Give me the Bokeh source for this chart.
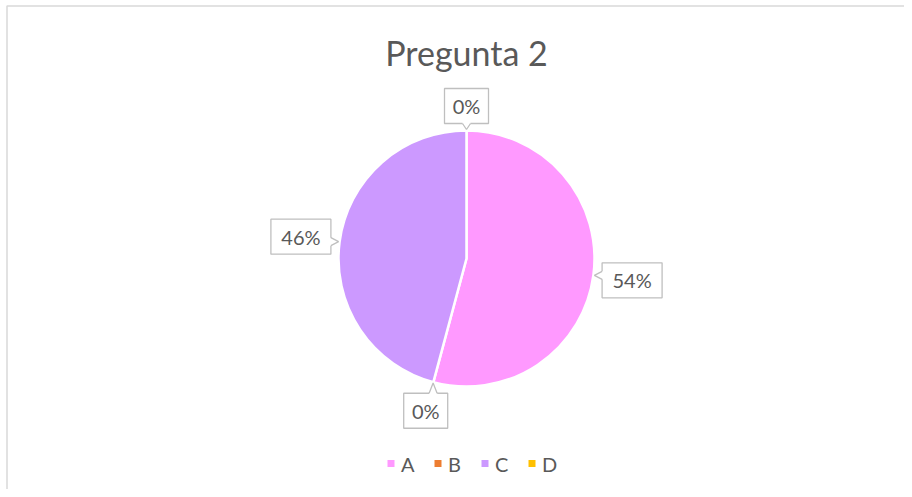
import math
from bokeh.plotting import figure
from bokeh.models import Range1d, ColumnDataSource
from bokeh.core.properties import value
from bokeh.embed import file_html
from bokeh.resources import INLINE

# ---- data ----
title_text = "Pregunta 2"
categories = ["A", "B", "C", "D"]
counts = [13, 0, 11, 0]
colors = ["#FF99FF", "#ED7D31", "#CC99FF", "#FFC000"]

# ---- layout / style ----
W, H = 904, 489
FONT = "Lato"
TXT = "#595959"
BOX = "#BFBFBF"
cx, cy, r = 466, H - 258, 128

p = figure(width=W, height=H, output_backend="svg", toolbar_location=None,
           x_range=Range1d(0, W), y_range=Range1d(0, H), min_border=0)
p.axis.visible = False
p.grid.visible = False
p.outline_line_color = None
p.background_fill_color = "white"
p.border_fill_color = "white"

# chart-area border (left and top edges visible)
p.line(x=[6.5, 6.5, W], y=[0, H - 5.5, H - 5.5], line_color="#D9D9D9", line_width=1.5)

total = sum(counts)
fracs = [c / total for c in counts]
cum = [0.0]
for f in fracs:
    cum.append(cum[-1] + f)

# wedges (clockwise from 12 o'clock)
ws = dict(start=[], end=[], color=[])
for i, c in enumerate(counts):
    if c > 0:
        ws["start"].append(math.pi / 2 - 2 * math.pi * cum[i + 1])
        ws["end"].append(math.pi / 2 - 2 * math.pi * cum[i])
        ws["color"].append(colors[i])
p.wedge(x=cx, y=cy, radius=r, start_angle="start", end_angle="end",
        fill_color="color", line_color="white", line_width=2.5,
        source=ColumnDataSource(ws))

# data labels with callouts
bxs, bys, bws, bhs, texts = [], [], [], [], []
patch_xs, patch_ys, line_xs, line_ys = [], [], [], []
for i, c in enumerate(counts):
    txt = f"{round(100 * c / total)}%"
    mid = cum[i] + fracs[i] / 2
    th = 2 * math.pi * mid
    sx, sy = math.sin(th), math.cos(th)
    w = 12 + 16 * len(txt)
    h = 35
    dist = r + 7 + abs(sx) * w / 2 + abs(sy) * h / 2
    bx, by = cx + dist * sx, cy + dist * sy
    tx, ty = cx + (r + 1) * sx, cy + (r + 1) * sy
    if abs(sx) * h > abs(sy) * w:
        sgn = 1 if sx > 0 else -1
        ex = bx - sgn * w / 2
        yy = min(max(ty, by - h / 2 + 6), by + h / 2 - 6)
        b1, b2 = (ex, yy - 4), (ex, yy + 4)
        i1, i2 = (ex + sgn * 1.5, yy - 4), (ex + sgn * 1.5, yy + 4)
    else:
        sgn = 1 if sy > 0 else -1
        ey = by - sgn * h / 2
        xx = min(max(tx, bx - w / 2 + 6), bx + w / 2 - 6)
        b1, b2 = (xx - 4, ey), (xx + 4, ey)
        i1, i2 = (xx - 4, ey + sgn * 1.5), (xx + 4, ey + sgn * 1.5)
    bxs.append(bx); bys.append(by); bws.append(w); bhs.append(h); texts.append(txt)
    patch_xs.append([i1[0], b1[0], tx, b2[0], i2[0]])
    patch_ys.append([i1[1], b1[1], ty, b2[1], i2[1]])
    line_xs.append([b1[0], tx, b2[0]])
    line_ys.append([b1[1], ty, b2[1]])

p.rect(x=bxs, y=bys, width=bws, height=bhs, fill_color="white",
       line_color=BOX, line_width=1.3)
p.patches(xs=patch_xs, ys=patch_ys, fill_color="white", line_color=None)
p.multi_line(xs=line_xs, ys=line_ys, line_color=BOX, line_width=1.3)
p.text(x=bxs, y=bys, text=texts, text_align="center", text_baseline="middle",
       text_font=value(FONT), text_font_size="20px", text_color=TXT)

# title
p.text(x=[cx], y=[H - 52], text=[title_text], text_align="center",
       text_baseline="middle", text_font=value(FONT), text_font_size="34px",
       text_color=TXT)

# legend
n = len(categories)
mx = [cx - 5 + (i - (n - 1) / 2) * 47 for i in range(n)]
ly = H - 463
p.scatter(x=mx, y=[ly] * n, marker="square", size=7, fill_color=colors,
          line_color=None)
p.text(x=[m + 10 for m in mx], y=[ly] * n, text=categories, text_align="left",
       text_baseline="middle", text_font=value(FONT), text_font_size="20px",
       text_color=TXT)

open("out.html", "w").write(file_html(p, INLINE))
